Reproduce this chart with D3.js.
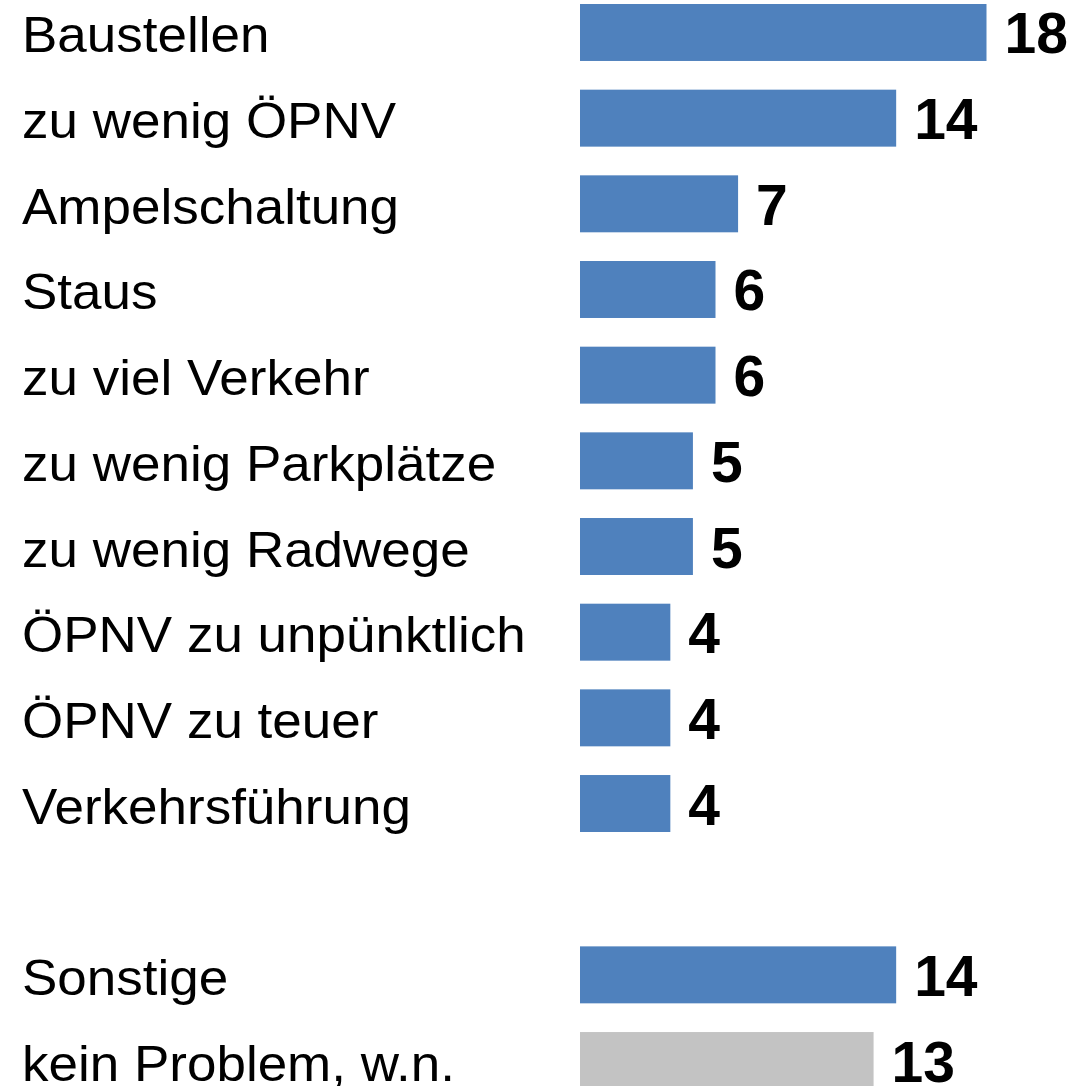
<!DOCTYPE html>
<html>

<head>
    <meta charset="utf-8">
    <title></title>
    <style type="text/css">
    body {
        margin: 0;
        background: #fff;
    }

    .label {
        font: 50px "Liberation Sans", Arial, sans-serif;
        fill: #000;
    }

    .value {
        font: bold 57px "Liberation Sans", Arial, sans-serif;
        fill: #000;
    }
    </style>
</head>

<body>
    <svg class="chart" width="1070" height="1086"></svg>
    <script src="https://d3js.org/d3.v7.min.js"></script>
    <script type="text/javascript">
    // problem categories, top block then the separate block after the gap
    var categories = ["Baustellen", "zu wenig ÖPNV", "Ampelschaltung", "Staus", "zu viel Verkehr",
        "zu wenig Parkplätze", "zu wenig Radwege", "ÖPNV zu unpünktlich", "ÖPNV zu teuer",
        "Verkehrsführung", "", "Sonstige", "kein Problem, w.n."];
    var values = [18, 14, 7, 6, 6, 5, 5, 4, 4, 4, null, 14, 13];
    var colors = ["#4f81bd", "#4f81bd", "#4f81bd", "#4f81bd", "#4f81bd", "#4f81bd", "#4f81bd",
        "#4f81bd", "#4f81bd", "#4f81bd", null, "#4f81bd", "#c3c3c3"];

    var svg = d3.select("svg");

    var data = categories.map(function(c, i) {
        return { key: i, name: c, value: values[i], color: colors[i] };
    });

    var step = 85.67;
    var y = d3.scaleBand()
        .domain(data.map(function(d) { return d.key; }))
        .range([-10.35, -10.35 + step * data.length])
        .paddingInner(0.335)
        .paddingOuter(0.1675);

    var x = d3.scaleLinear()
        .domain([0, 18])
        .range([580, 986.5]);

    var rows = svg.selectAll("g.row")
        .data(data.filter(function(d) { return d.value != null; }))
        .enter().append("g")
        .attr("class", "row");

    rows.append("rect")
        .attr("x", x(0))
        .attr("y", function(d) { return y(d.key); })
        .attr("width", function(d) { return x(d.value) - x(0); })
        .attr("height", y.bandwidth())
        .attr("fill", function(d) { return d.color; });

    // the source font runs a little wider than Liberation Sans
    rows.append("text")
        .attr("class", "label")
        .attr("transform", function(d) {
            return "translate(22," + (y(d.key) + y.bandwidth() / 2 + 20) + ") scale(1.06,1)";
        })
        .text(function(d) { return d.name; });

    rows.append("text")
        .attr("class", "value")
        .attr("x", function(d) { return x(d.value) + 18; })
        .attr("y", function(d) { return y(d.key) + y.bandwidth() / 2 + 21; })
        .text(function(d) { return d.value; });
    </script>
</body>

</html>
